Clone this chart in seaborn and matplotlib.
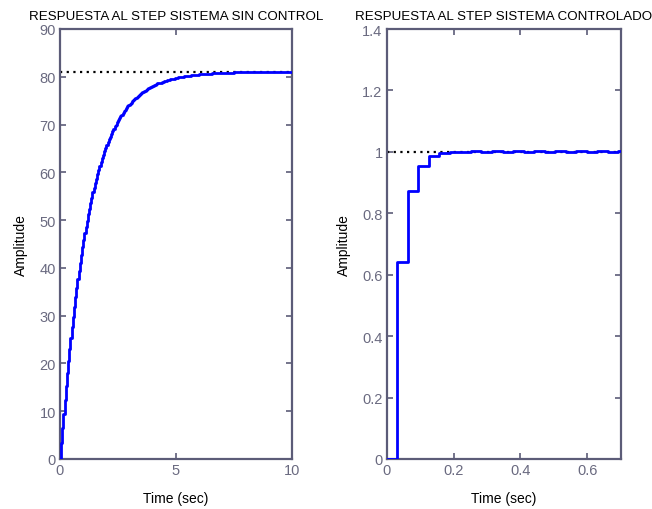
import numpy as np
import pandas as pd
import matplotlib
matplotlib.use("Agg")
import matplotlib.pyplot as plt
import seaborn as sns

# ---- data ----
ts_open = 0.05         # sample period of the open-loop response (s)
y_open = [0, 3.3, 6.5, 9.5, 12.4, 15.2, 17.9, 20.5, 23.0, 25.3, 27.6, 29.8, 31.9,
          33.9, 35.8, 37.6, 39.4, 41.1, 42.7, 44.3, 45.8, 47.2, 48.6, 49.9, 51.2,
          52.4, 53.6, 54.7, 55.8, 56.8, 57.8, 58.7, 59.6, 60.5, 61.4, 62.2, 62.9,
          63.7, 64.4, 65.1, 65.7, 66.3, 66.9, 67.5, 68.1, 68.6, 69.1, 69.6, 70.0,
          70.5, 70.9, 71.3, 71.7, 72.1, 72.5, 72.8, 73.1, 73.5, 73.8, 74.1, 74.3,
          74.6, 74.9, 75.1, 75.4, 75.6, 75.8, 76.0, 76.2, 76.4, 76.6, 76.8, 77.0,
          77.1, 77.3, 77.4, 77.6, 77.7, 77.9, 78.0, 78.1, 78.2, 78.3, 78.5, 78.6,
          78.6, 78.7, 78.8, 78.9, 79.0, 79.1, 79.2, 79.3, 79.3, 79.4, 79.5, 79.5,
          79.6, 79.6, 79.7, 79.8, 79.8, 79.9, 79.9, 79.9, 80.0, 80.0, 80.1, 80.1,
          80.1, 80.2, 80.2, 80.2, 80.3, 80.3, 80.3, 80.4, 80.4, 80.4, 80.4, 80.5,
          80.5, 80.5, 80.5, 80.5, 80.6, 80.6, 80.6, 80.6, 80.6, 80.6, 80.7, 80.7,
          80.7, 80.7, 80.7, 80.7, 80.7, 80.7, 80.8, 80.8, 80.8, 80.8, 80.8, 80.8,
          80.8, 80.8, 80.8, 80.8, 80.8, 80.9] + [81.0] * 51
final_open = 81.0

ts_closed = 0.0315     # sample period of the controlled response (s)
y_closed = [0, 0.64, 0.872, 0.955, 0.985, 0.995, 0.999, 1.0, 1.004, 1.0, 1.004, 1.0,
            1.004, 1.0, 1.004, 1.0, 1.004, 1.0, 1.004, 1.0, 1.004, 1.0, 1.004, 1.0]
final_closed = 1.0

titles = ["RESPUESTA AL STEP SISTEMA SIN CONTROL", "RESPUESTA AL STEP SISTEMA CONTROLADO"]
xlabel = "Time (sec)"
ylabel = "Amplitude"
xticks_open = [0, 5, 10]
yticks_open = [0, 10, 20, 30, 40, 50, 60, 70, 80, 90]
xticks_closed = [0, 0.2, 0.4, 0.6]
yticks_closed = [0, 0.2, 0.4, 0.6, 0.8, 1, 1.2, 1.4]

df_open = pd.DataFrame({"t": np.arange(len(y_open)) * ts_open, "y": y_open})
df_closed = pd.DataFrame({"t": np.arange(len(y_closed)) * ts_closed, "y": y_closed})

sns.set_style("white")
plt.rcParams["font.family"] = ["Liberation Sans", "DejaVu Sans"]

W, H = 652, 510
fig = plt.figure(figsize=(W / 100, H / 100), dpi=100)
ax1 = fig.add_axes([60 / W, (H - 460) / H, 232 / W, 430 / H])
ax2 = fig.add_axes([386.7 / W, (H - 460) / H, 234 / W, 430 / H])

axcol = "#5c5c78"
blue = "#0000ff"

def style(ax, xlim, ylim, xt, yt, xtl, ytl, title):
    ax.set_xlim(*xlim)
    ax.set_ylim(*ylim)
    ax.set_xticks(xt)
    ax.set_yticks(yt)
    ax.set_xticklabels(xtl)
    ax.set_yticklabels(ytl)
    for s in ax.spines.values():
        s.set_color(axcol)
        s.set_linewidth(1.6)
        s.set_visible(True)
    ax.tick_params(direction="in", length=4, width=1.2, color=axcol,
                   labelcolor="#6a6a80", labelsize=10.5, top=True, right=True,
                   bottom=True, left=True, pad=3)
    ax.set_title(title, fontsize=9.6, color="black", pad=7)
    ax.set_xlabel(xlabel, fontsize=10, color="black", labelpad=10)
    ax.set_ylabel(ylabel, fontsize=10, color="black", labelpad=8)

# left: open loop
ax1.axhline(final_open, color="black", linestyle=(0, (1, 2)), linewidth=1.6, zorder=1)
sns.lineplot(data=df_open, x="t", y="y", ax=ax1, color=blue, linewidth=2.0,
             drawstyle="steps-post", estimator=None, zorder=3)
style(ax1, (0, 10), (0, 90), xticks_open, yticks_open,
      [str(v) for v in xticks_open], [str(v) for v in yticks_open], titles[0])

# right: controlled
ax2.axhline(final_closed, color="black", linestyle=(0, (1, 2)), linewidth=1.6, zorder=1)
sns.lineplot(data=df_closed, x="t", y="y", ax=ax2, color=blue, linewidth=2.0,
             drawstyle="steps-post", estimator=None, zorder=3)
style(ax2, (0, 0.7), (0, 1.4), xticks_closed, yticks_closed,
      ["0", "0.2", "0.4", "0.6"], ["0", "0.2", "0.4", "0.6", "0.8", "1", "1.2", "1.4"],
      titles[1])

fig.savefig("out.png", dpi=100, facecolor="white")
